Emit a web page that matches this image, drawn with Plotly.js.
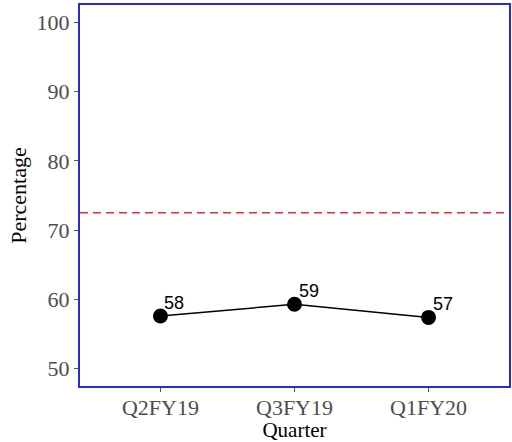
<!DOCTYPE html>
<html>
<head>
<meta charset="utf-8">
<script src="https://cdn.plot.ly/plotly-3.0.1.min.js"></script>
<style>html,body{margin:0;padding:0;background:#fff;}#chart{width:512px;height:442px;}</style>
</head>
<body>
<div id="chart"></div>
<script>
var quarters = ["Q2FY19", "Q3FY19", "Q1FY20"];
var percentages = [57.6, 59.3, 57.4];
var pointLabels = ["58", "59", "57"];
var targetLine = 72.5;
var yTicks = [50, 60, 70, 80, 90, 100];

var trace = {
  x: quarters,
  y: percentages,
  mode: "lines+markers",
  line: {color: "#000", width: 1.5},
  marker: {color: "#000", size: 15},
  cliponaxis: false,
  hoverinfo: "skip"
};

var labelAnnotations = quarters.map(function (q, i) {
  return {
    x: q, y: percentages[i], text: pointLabels[i],
    xref: "x", yref: "y", showarrow: false,
    xanchor: "left", yanchor: "middle",
    xshift: 2, yshift: 13,
    font: {family: "Liberation Sans, Arial, sans-serif", size: 18, color: "#000"}
  };
});

var serif = "Liberation Serif, Times New Roman, serif";
var layout = {
  width: 512, height: 442,
  margin: {l: 80, r: 3, t: 5, b: 56},
  paper_bgcolor: "#fff", plot_bgcolor: "#fff",
  showlegend: false,
  annotations: labelAnnotations,
  shapes: [{
    type: "line", xref: "paper", yref: "y",
    x0: 0, x1: 1, y0: targetLine, y1: targetLine,
    line: {color: "#e0302c", width: 1.5, dash: "8px,5px"}
  }],
  xaxis: {
    type: "category",
    range: [-0.6, 2.6],
    showgrid: false, zeroline: false,
    showline: true, mirror: true, linecolor: "#2a2ad0", linewidth: 2,
    ticks: "outside", ticklen: 4, tickcolor: "#555", tickwidth: 1,
    ticklabelstandoff: -3,
    tickfont: {family: serif, size: 22, color: "#4d4d4d"},
    title: {text: "Quarter", font: {family: serif, size: 21, color: "#000"}, standoff: 2}
  },
  yaxis: {
    range: [47.5, 102.5],
    tickvals: yTicks,
    showgrid: false, zeroline: false,
    showline: true, mirror: true, linecolor: "#2a2ad0", linewidth: 2,
    ticks: "outside", ticklen: 4, tickcolor: "#555", tickwidth: 1,
    tickfont: {family: serif, size: 22, color: "#4d4d4d"},
    title: {text: "Percentage", font: {family: serif, size: 22, color: "#000"}, standoff: 4}
  }
};

Plotly.newPlot("chart", [trace], layout, {staticPlot: true, displayModeBar: false});
</script>
</body>
</html>
